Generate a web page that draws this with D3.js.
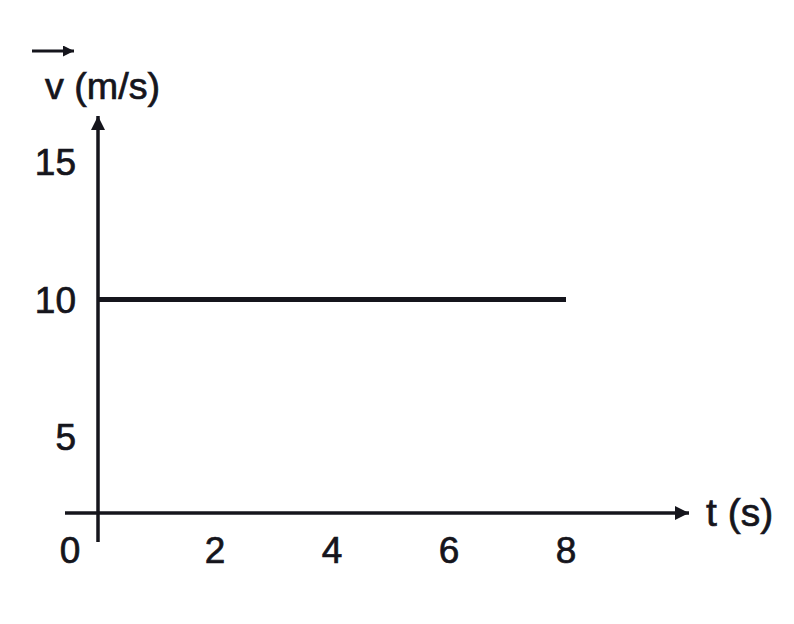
<!DOCTYPE html>
<html>
<head>
<meta charset="utf-8">
<script src="https://cdn.jsdelivr.net/npm/d3@7"></script>
<style>
  html, body { margin: 0; padding: 0; background: #fff; }
  svg { display: block; }
</style>
</head>
<body>
<svg id="chart" width="794" height="624"></svg>
<script>
// Data
const xTicks = [2, 4, 6, 8];
const yTicks = [5, 10, 15];
const times = [0, 8];
const velocity = [10, 10];
const xLabel = "t (s)";
const yLabel = "v (m/s)";

const svg = d3.select("#chart");
const ink = "#15151c";
const font = "'Liberation Sans', Arial, Helvetica, sans-serif";

const x = d3.scaleLinear().domain([0, 8]).range([98, 566]);
const y = d3.scaleLinear().domain([5, 15]).range([437, 162]);

const originX = x(0);
const axisY = 513;

function styleText(sel, size) {
  return sel.attr("font-family", font).attr("font-size", size)
    .attr("fill", ink).attr("stroke", ink).attr("stroke-width", 0.7);
}

const defs = svg.append("defs");
defs.append("marker")
  .attr("id", "arrow")
  .attr("viewBox", "0 0 10 10")
  .attr("refX", 10).attr("refY", 5)
  .attr("markerUnits", "userSpaceOnUse")
  .attr("markerWidth", 20).attr("markerHeight", 14)
  .attr("orient", "auto")
  .append("path").attr("d", "M0,0 L10,5 L0,10 Z").attr("fill", ink);

defs.append("marker")
  .attr("id", "arrowSmall")
  .attr("viewBox", "0 0 10 10")
  .attr("refX", 10).attr("refY", 5)
  .attr("markerUnits", "userSpaceOnUse")
  .attr("markerWidth", 13).attr("markerHeight", 11)
  .attr("orient", "auto")
  .append("path").attr("d", "M0,0 L10,5 L0,10 Z").attr("fill", ink);

// y axis
svg.append("line")
  .attr("x1", originX).attr("y1", 542)
  .attr("x2", originX).attr("y2", 116)
  .attr("stroke", ink).attr("stroke-width", 3.5)
  .attr("marker-end", "url(#arrow)");

// x axis
svg.append("line")
  .attr("x1", 65).attr("y1", axisY)
  .attr("x2", 689).attr("y2", axisY)
  .attr("stroke", ink).attr("stroke-width", 3.5)
  .attr("marker-end", "url(#arrow)");

// data line
const line = d3.line().x((d, i) => x(times[i])).y(d => y(d));
svg.append("path")
  .datum(velocity)
  .attr("d", line)
  .attr("fill", "none")
  .attr("stroke", ink)
  .attr("stroke-width", 5);

// y tick labels
styleText(svg.selectAll(".ytick").data(yTicks).enter().append("text")
  .attr("x", 76)
  .attr("y", d => y(d))
  .attr("dy", "0.36em")
  .attr("text-anchor", "end")
  .text(d => d), 37);

// x tick labels
styleText(svg.selectAll(".xtick").data(xTicks).enter().append("text")
  .attr("x", d => x(d))
  .attr("y", 550)
  .attr("dy", "0.36em")
  .attr("text-anchor", "middle")
  .text(d => d), 37);

// origin label
styleText(svg.append("text")
  .attr("x", 70).attr("y", 550).attr("dy", "0.36em")
  .attr("text-anchor", "middle")
  .text("0"), 37);

// x axis label
styleText(svg.append("text")
  .attr("x", 706).attr("y", 512).attr("dy", "0.36em")
  .text(xLabel), 39);

// y axis label
styleText(svg.append("text")
  .attr("x", 45).attr("y", 99)
  .attr("textLength", 115)
  .attr("lengthAdjust", "spacingAndGlyphs")
  .text(yLabel), 37);

// vector arrow over v
svg.append("line")
  .attr("x1", 32).attr("y1", 51)
  .attr("x2", 74).attr("y2", 51)
  .attr("stroke", ink).attr("stroke-width", 3)
  .attr("marker-end", "url(#arrowSmall)");
</script>
</body>
</html>
